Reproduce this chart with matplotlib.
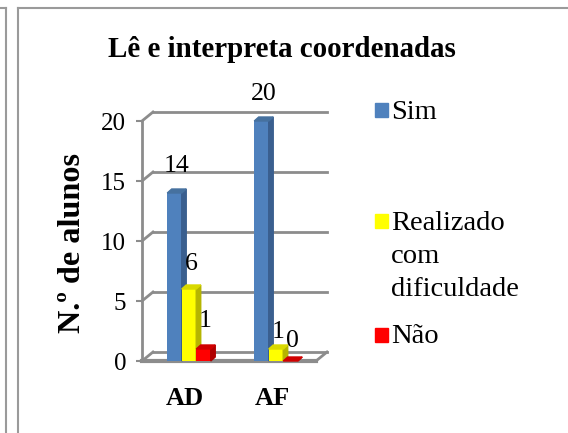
import numpy as np
import matplotlib
matplotlib.use('Agg')
import matplotlib.pyplot as plt
from matplotlib.patches import Polygon, Rectangle
from matplotlib.lines import Line2D

plt.rcParams['font.family'] = ['Liberation Serif', 'DejaVu Serif']

# data
groups = ['AD', 'AF']
series = ['Sim', 'Realizado\ncom\ndificuldade', 'Não']
sim = [14, 20]
dificuldade = [6, 1]
nao = [1, 0]
yticks = [0, 5, 10, 15, 20]

values = [sim, dificuldade, nao]
front = ['#4F81BD', '#FFFF00', '#FF0000']
side = ['#3A5F8F', '#B5B500', '#B00000']
top = ['#46719F', '#D9D900', '#D00000']
# gap (px) between bar top and its label, per series / group
label_gap = [[21, 21], [19, 11], [22, 14]]

W, H = 568, 433
fig = plt.figure(figsize=(W / 100, H / 100), dpi=100)
renderer = fig.canvas.get_renderer()

def fx(px):
    return px / W

def fy(py):
    return 1 - py / H

def fit(t, target_px, horizontal=True):
    # scale font so the text spans target_px
    bb = t.get_window_extent(renderer)
    cur = bb.width if horizontal else bb.height
    t.set_fontsize(t.get_fontsize() * target_px / cur)

ax = fig.add_axes([fx(142), fy(361), fx(316) - fx(142), fy(121) - fy(361)])
xmin, xmax = -0.54, 1.46
ax.set_xlim(xmin, xmax)
ax.set_ylim(0, 20)
ax.patch.set_visible(False)
ux = (316 - 142) / (xmax - xmin)   # px per x unit
uy = 240 / 20                      # px per y unit

grid = '#8C8C8C'
# back wall and left wall
wdx, wdy = 11 / ux, 9 / uy
for v in yticks:
    ax.plot([xmin + wdx, xmax + wdx], [v + wdy] * 2, color=grid, lw=2, clip_on=False, zorder=1)
    ax.plot([xmin, xmin + wdx], [v, v + wdy], color=grid, lw=2, clip_on=False, zorder=1)
# floor
ax.plot([xmin, xmax], [0, 0], color=grid, lw=3, clip_on=False, zorder=1)
ax.plot([xmax, xmax + wdx], [0, wdy], color=grid, lw=2, clip_on=False, zorder=1)

for s in ['top', 'right', 'bottom']:
    ax.spines[s].set_visible(False)
ax.spines['left'].set_color(grid)
ax.spines['left'].set_linewidth(2)
ax.set_yticks(yticks)
ax.set_xticks([])
ax.tick_params(axis='y', length=4.5, width=1.5, color=grid, pad=7, labelsize=18)

# bars with depth
bw = 14.5 / ux
ddx, ddy = 4.5 / ux, 4 / uy
gx = np.arange(len(groups))
for j, vals in enumerate(values):
    xs = gx + (j - 1) * bw
    ax.bar(xs, vals, width=bw, color=front[j], zorder=3 + j, clip_on=False)
    for i, (x, v) in enumerate(zip(xs, vals)):
        r = x + bw / 2
        l = x - bw / 2
        ax.add_patch(Polygon([(r, 0), (r + ddx, ddy), (r + ddx, v + ddy), (r, v)],
                             closed=True, color=side[j], zorder=3 + j, clip_on=False))
        ax.add_patch(Polygon([(l, v), (l + ddx, v + ddy), (r + ddx, v + ddy), (r, v)],
                             closed=True, color=top[j], zorder=3 + j, clip_on=False))
        ax.annotate(str(v), (x, v), xytext=(2 * 0.72, label_gap[j][i] * 0.72),
                    textcoords='offset points', ha='center', va='baseline',
                    fontsize=18.5, zorder=10, annotation_clip=False)

# category labels
for i, g in enumerate(groups):
    ax.annotate(g, (gx[i], 0), xytext=(-4 * 0.72, -44 * 0.72), textcoords='offset points',
                ha='center', va='baseline', fontsize=19, fontweight='bold',
                annotation_clip=False)

title = fig.text(fx(281.5), fy(56.7), 'Lê e interpreta coordenadas', ha='center',
                 va='baseline', fontsize=21, fontweight='bold')
fit(title, 347)
ylab = fig.text(fx(72), fy(243), 'N.º de alunos', rotation=90, ha='center', va='center',
                fontsize=21, fontweight='bold')
fit(ylab, 180, horizontal=False)

# legend
leg_y = [117, 228, 342]
txt_y = [119, 230, 343]
for j, name in enumerate(series):
    fig.add_artist(Rectangle((fx(375), fy(leg_y[j])), 13 / W, 14 / H,
                             transform=fig.transFigure, color=front[j]))
    for k, line in enumerate(name.split('\n')):
        fig.text(fx(391), fy(txt_y[j] + 33 * k), line, ha='left', va='baseline',
                 fontsize=20.5)

# panel frames
fc = '#9A9A9A'
fig.add_artist(Line2D([fx(6), fx(6)], [fy(8), 0], color=fc, lw=1.5))
fig.add_artist(Line2D([0, fx(6)], [fy(8), fy(8)], color=fc, lw=1.5))
fig.add_artist(Line2D([fx(18), fx(18)], [fy(8), 0], color=fc, lw=1.5))
fig.add_artist(Line2D([fx(18), 1], [fy(8), fy(8)], color=fc, lw=1.5))

fig.savefig('out.png', dpi=100)
